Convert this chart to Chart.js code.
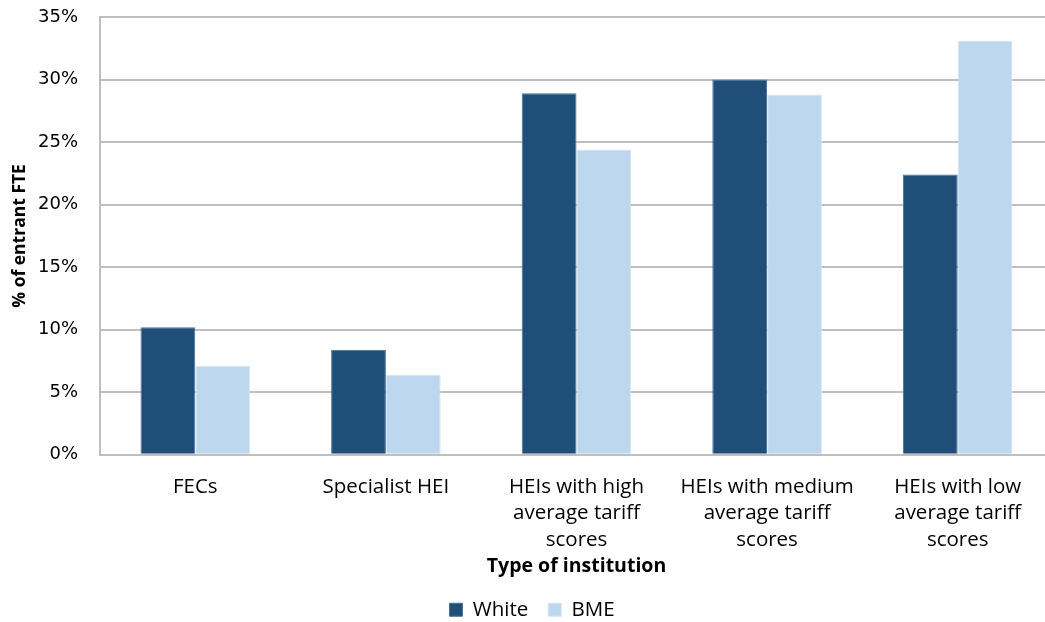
<!DOCTYPE html>
<html>
<head>
<meta charset="utf-8">
<script src="https://cdn.jsdelivr.net/npm/chart.js@4/dist/chart.umd.min.js"></script>
<style>
  html, body { margin: 0; padding: 0; background: #fff; overflow: hidden; }
  /* etwas breiter als das Fenster: die Plotfläche läuft rechts über den Rand */
  #wrap { width: 1053px; height: 622px; }
</style>
</head>
<body>
<div id="wrap"><canvas id="chart"></canvas></div>
<script>
// Anteil der Studienanfänger (FTE) nach Art der Einrichtung
const categories = [
    ['FECs'],
    ['Specialist HEI'],
    ['HEIs with high', 'average tariff', 'scores'],
    ['HEIs with medium', 'average tariff', 'scores'],
    ['HEIs with low', 'average tariff', 'scores']
];
const whiteValues = [10.2, 8.4, 28.9, 30.0, 22.4];
const bmeValues = [7.1, 6.4, 24.4, 28.8, 33.1];
const yTicks = [0, 5, 10, 15, 20, 25, 30, 35];

const gridGrey = '#BFBFBF';

const ctx = document.getElementById('chart').getContext('2d');
new Chart(ctx, {
    type: 'bar',
    data: {
        labels: categories,
        datasets: [{
            label: 'White',
            data: whiteValues,
            backgroundColor: '#1F4E79',
            borderColor: '#4A7197',
            borderWidth: 1
        }, {
            label: 'BME',
            data: bmeValues,
            backgroundColor: '#BDD7EE',
            borderColor: '#D4E5F5',
            borderWidth: 1
        }]
    },
    options: {
        responsive: true,
        maintainAspectRatio: false,
        animation: false,
        layout: { padding: { top: 0, right: 0, left: 11, bottom: -8 } },
        datasets: {
            bar: { categoryPercentage: 0.575, barPercentage: 1.0 }
        },
        plugins: {
            tooltip: { enabled: false },
            legend: {
                position: 'bottom',
                labels: {
                    color: '#000',
                    font: { family: 'Open Sans', size: 20.5 },
                    boxWidth: 13,
                    boxHeight: 13,
                    padding: 20
                }
            }
        },
        scales: {
            x: {
                grid: { display: false, drawTicks: false },
                border: { color: gridGrey, width: 2 },
                ticks: {
                    color: '#000',
                    font: { family: 'Open Sans', size: 20.5, lineHeight: 1.29 },
                    padding: 19,
                    maxRotation: 0,
                    autoSkip: false
                },
                title: {
                    display: true,
                    text: 'Type of institution',
                    color: '#000',
                    font: { family: 'Open Sans', size: 19.5, weight: 'bold' },
                    padding: { top: -17, bottom: 1 }
                }
            },
            y: {
                min: 0,
                max: 35,
                afterBuildTicks: axis => {
                    axis.ticks = yTicks.map(v => ({ value: v }));
                },
                // feste Breite und oberer Abstand der y-Achse
                afterFit: axis => {
                    axis.width = 89;
                    axis.paddingTop = 17;
                    axis.paddingBottom = 0;
                },
                grid: { color: gridGrey, lineWidth: 2, drawTicks: false },
                border: { color: gridGrey, width: 2 },
                ticks: {
                    color: '#000',
                    font: { family: 'DejaVu Sans', size: 18 },
                    padding: 22,
                    callback: v => v + '%'
                },
                title: {
                    display: true,
                    text: '% of entrant FTE',
                    color: '#000',
                    font: { family: 'Open Sans', size: 17.5, weight: 'bold' },
                    padding: { top: -1, bottom: 0 }
                }
            }
        }
    }
});
</script>
</body>
</html>
